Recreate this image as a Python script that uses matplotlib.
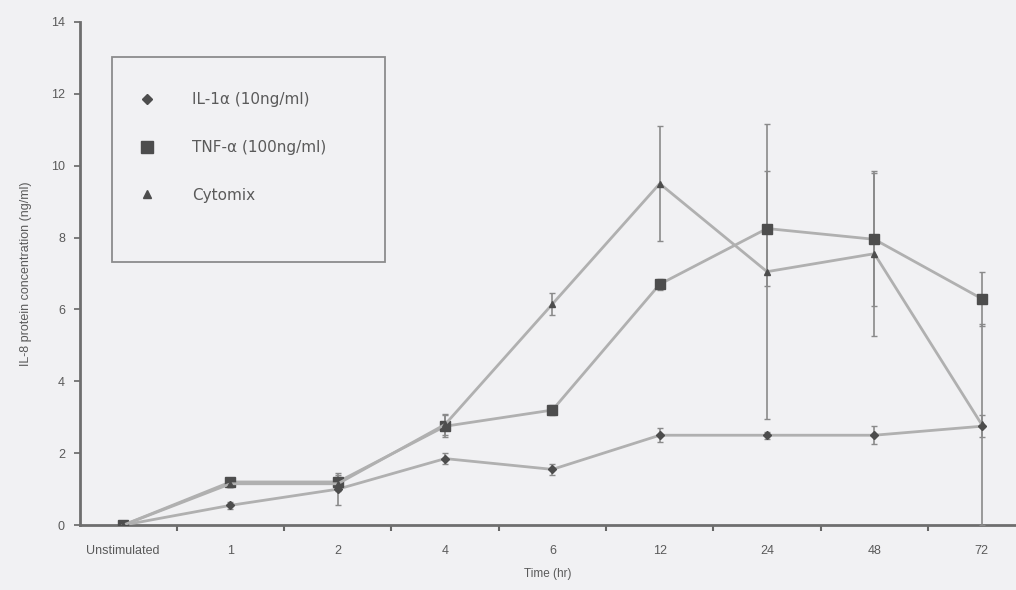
import numpy as np
import matplotlib.pyplot as plt
from matplotlib.lines import Line2D
from matplotlib.patches import Rectangle

plt.rcParams['font.family'] = ['Liberation Sans', 'DejaVu Sans']

# Time points (categorical axis)
times = ['Unstimulated', '1', '2', '4', '6', '12', '24', '48', '72']

# IL-8 concentration (ng/ml), mean and error
il1a = [0, 0.55, 1.0, 1.85, 1.55, 2.5, 2.5, 2.5, 2.75]
il1a_err = [0, 0.1, 0.45, 0.15, 0.15, 0.2, 0.1, 0.25, 0.3]

tnfa = [0, 1.2, 1.2, 2.75, 3.2, 6.7, 8.25, 7.95, 6.3]
tnfa_err = [0, 0.1, 0.2, 0.3, 0.15, 0.15, 1.6, 1.85, 0.75]

cytomix = [0, 1.15, 1.15, 2.8, 6.15, 9.5, 7.05, 7.55, 2.8]
cytomix_err = [0, 0.1, 0.2, 0.3, 0.3, 1.6, 4.1, 2.3, 2.8]

labels = ['IL-1\u03b1 (10ng/ml)', 'TNF-\u03b1 (100ng/ml)', 'Cytomix']

bg = '#f1f1f3'
line_col = '#b0b0b0'
mark_col = '#4d4d4d'
text_col = '#5a5a5a'

fig = plt.figure(figsize=(10.16, 5.90), dpi=100, facecolor=bg)
ax = fig.add_axes([0.079, 0.11, 0.921, 0.853], facecolor=bg)

x = np.arange(len(times))

series = [
    (il1a, il1a_err, 'D', 4.5),
    (tnfa, tnfa_err, 's', 7),
    (cytomix, cytomix_err, '^', 5),
]
for vals, err, mk, ms in series:
    ax.errorbar(x, vals, yerr=err, color=line_col, lw=2.0,
                marker=mk, ms=ms, mfc=mark_col, mec=mark_col,
                ecolor='#8a8a8a', elinewidth=1.2, capsize=2.5, capthick=1.0,
                zorder=3)

ax.set_xlim(-0.4, 8.32)
ax.set_ylim(0, 14)
ax.set_yticks(np.arange(0, 15, 2))
ax.set_xticks(x)
ax.set_xticklabels(times)
ax.set_xticks(x[:-1] + 0.5, minor=True)

ax.tick_params(axis='x', which='major', length=0, pad=14, labelsize=9, colors=text_col)
ax.tick_params(axis='x', which='minor', length=4, width=1.5, color='#666666')
ax.tick_params(axis='y', length=4, width=1.2, color='#666666', labelsize=9,
               labelcolor=text_col, pad=7)

for side in ['top', 'right']:
    ax.spines[side].set_visible(False)
for side in ['left', 'bottom']:
    ax.spines[side].set_color('#6e6e6e')
    ax.spines[side].set_linewidth(2)

ax.set_xlabel('Time (hr)', fontsize=8.5, color=text_col, labelpad=8)
ax.set_ylabel('IL-8 protein concentration (ng/ml)', fontsize=9,
              color=text_col, labelpad=14)

# legend entries without their own frame; box drawn separately
handles = [Line2D([], [], ls='none', marker=mk, ms=ms + 1, color=mark_col)
           for _, _, mk, ms in series]
leg = ax.legend(handles, labels, loc='upper left',
                bbox_to_anchor=(137 / 1016, 1 - 92 / 590),
                bbox_transform=fig.transFigure, prop={'family': 'DejaVu Sans', 'size': 11},
                labelcolor=text_col, frameon=False,
                borderpad=0, labelspacing=2.15, handlelength=1.3,
                handletextpad=2.3, borderaxespad=0)

fig.patches.append(Rectangle((112 / 1016, 1 - 262 / 590), 273 / 1016, 205 / 590,
                             transform=fig.transFigure, fill=False,
                             edgecolor='#8c8c8c', lw=1.3, zorder=5))

fig.savefig('out.png', dpi=100, facecolor=bg)
